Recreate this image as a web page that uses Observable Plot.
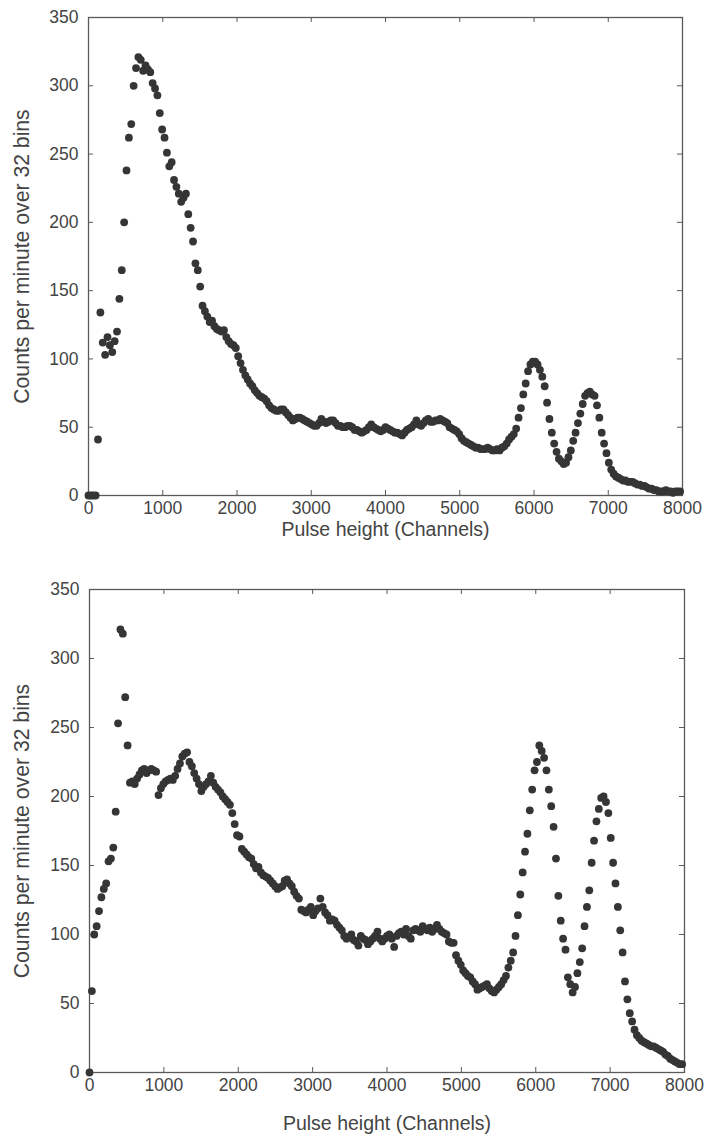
<!DOCTYPE html>
<html>
<head>
<meta charset="utf-8">
<script src="https://cdn.jsdelivr.net/npm/d3@7"></script>
<script src="https://cdn.jsdelivr.net/npm/@observablehq/plot@0.6"></script>
<style>
  body { margin: 0; background: #fff; }
  #chart { width: 705px; }
  #chart svg { display: block; }
</style>
</head>
<body>
<div id="chart"></div>
<script>
// Pulse-height spectra, counts summed over 32-channel bins (bin k starts at channel 32·k)
const binWidth = 32;

const xTicks = [0, 1000, 2000, 3000, 4000, 5000, 6000, 7000, 8000];
const yTicks = [0, 50, 100, 150, 200, 250, 300, 350];

const xTitle = "Pulse height (Channels)";
const yTitle = "Counts per minute over 32 bins";

// Upper spectrum
const spectrumA = [
  0, 0, 0, 0, 41, 134, 112, 103, 116, 110,
  105, 113, 120, 144, 165, 200, 238, 262, 272, 300,
  313, 321, 319, 311, 315, 312, 310, 302, 298, 293,
  280, 268, 262, 251, 241, 244, 231, 226, 221, 215,
  218, 221, 206, 196, 186, 170, 165, 153, 139, 135,
  131, 127, 128, 124, 122, 121, 120, 121, 116, 113,
  111, 110, 108, 102, 97, 92, 88, 85, 82, 80,
  77, 75, 73, 72, 71, 69, 66, 64, 63, 62,
  62, 63, 63, 61, 59, 57, 55, 56, 57, 57,
  56, 55, 54, 53, 52, 51, 51, 53, 56, 54,
  53, 54, 55, 55, 53, 51, 51, 50, 50, 51,
  51, 50, 48, 48, 47, 46, 47, 48, 50, 52,
  50, 49, 48, 47, 48, 50, 49, 48, 47, 46,
  46, 45, 44, 46, 48, 49, 50, 52, 55, 52,
  51, 53, 55, 56, 54, 54, 55, 55, 56, 55,
  54, 53, 50, 49, 48, 47, 45, 42, 40, 39,
  38, 37, 36, 35, 35, 34, 34, 34, 35, 34,
  33, 33, 34, 33, 35, 36, 38, 41, 43, 45,
  49, 57, 64, 74, 82, 91, 96, 98, 98, 96,
  92, 87, 80, 68, 56, 46, 38, 32, 27, 25,
  23, 24, 28, 33, 40, 46, 53, 60, 67, 73,
  75, 76, 74, 73, 66, 57, 46, 38, 31, 24,
  19, 16, 14, 13, 12, 11, 11, 10, 10, 10,
  9, 8, 8, 7, 7, 6, 5, 5, 4, 4,
  3, 3, 3, 4, 3, 3, 2, 3, 3, 3
];

// Lower spectrum
const spectrumB = [
  0, 59, 100, 106, 117, 127, 133, 137, 153, 155,
  163, 189, 253, 321, 318, 272, 237, 210, 211, 209,
  213, 216, 219, 220, 217, 219, 220, 219, 218, 201,
  206, 209, 211, 212, 213, 212, 215, 220, 224, 229,
  231, 232, 225, 222, 217, 213, 209, 204, 207, 209,
  211, 215, 210, 207, 205, 203, 200, 198, 196, 194,
  188, 180, 172, 171, 162, 160, 158, 156, 155, 151,
  148, 149, 145, 143, 142, 141, 139, 137, 135, 133,
  134, 135, 139, 140, 137, 135, 131, 128, 126, 118,
  117, 116, 118, 120, 114, 117, 119, 126, 120, 116,
  114, 110, 111, 110, 107, 105, 103, 99, 97, 98,
  100, 96, 95, 92, 99, 97, 96, 93, 95, 97,
  99, 102, 97, 95, 97, 99, 100, 97, 91, 99,
  101, 102, 100, 104, 99, 97, 103, 104, 103, 102,
  106, 104, 103, 105, 102, 104, 107, 104, 102, 101,
  100, 95, 94, 94, 85, 81, 78, 74, 72, 70,
  69, 66, 64, 60, 61, 62, 63, 64, 61, 59,
  58, 60, 62, 64, 67, 70, 76, 81, 87, 99,
  114, 129, 145, 160, 173, 190, 205, 219, 225, 237,
  233, 228, 219, 205, 193, 178, 155, 128, 110, 97,
  89, 69, 64, 58, 62, 72, 80, 90, 106, 120,
  132, 152, 168, 182, 191, 199, 200, 196, 188, 170,
  152, 137, 120, 103, 87, 66, 53, 43, 37, 31,
  27, 25, 23, 22, 21, 20, 19, 19, 18, 17,
  16, 15, 13, 12, 10, 9, 8, 7, 6, 6
];

const WIDTH = 705;
const FONT = "'Liberation Sans', Arial, Helvetica, sans-serif";
const INK = "#444";
const AXIS = "#5a5a5a";
const DOT = "#353535";
const TICK_LEN = 5;

function spectrumPanel(counts, layout) {
  const data = counts.map((count, k) => ({channel: k * binWidth, count}));
  const innerW = WIDTH - layout.marginLeft - layout.marginRight;
  const innerH = layout.height - layout.marginTop - layout.marginBottom;
  return Plot.plot({
    width: WIDTH,
    height: layout.height,
    marginTop: layout.marginTop,
    marginBottom: layout.marginBottom,
    marginLeft: layout.marginLeft,
    marginRight: layout.marginRight,
    style: {fontFamily: FONT, color: INK, background: "#fff"},
    x: {domain: [0, 8000]},
    y: {domain: [0, 350]},
    marks: [
      // tick labels only; tick marks are drawn inward below
      Plot.axisX(xTicks, {tickSize: 0, tickPadding: 6, fontSize: 17.5, tickFormat: d => String(d), label: null}),
      Plot.axisY(yTicks, {tickSize: 0, tickPadding: 10, fontSize: 17.5, label: null}),
      // inward ticks on all four sides of the frame
      Plot.tickX(xTicks, {x: d => d, insetTop: innerH - TICK_LEN, stroke: AXIS}),
      Plot.tickX(xTicks, {x: d => d, insetBottom: innerH - TICK_LEN, stroke: AXIS}),
      Plot.tickY(yTicks, {y: d => d, insetRight: innerW - TICK_LEN, stroke: AXIS}),
      Plot.tickY(yTicks, {y: d => d, insetLeft: innerW - TICK_LEN, stroke: AXIS}),
      Plot.frame({stroke: AXIS, strokeWidth: 1.3}),
      Plot.dot(data, {x: "channel", y: "count", r: 3.9, fill: DOT, stroke: "none"}),
      Plot.text([xTitle], {frameAnchor: "bottom", dy: layout.xTitleOffset, textAnchor: "middle", lineAnchor: "middle", text: d => d, fontSize: 19.5}),
      Plot.text([yTitle], {frameAnchor: "left", dx: layout.yTitleOffset, rotate: -90, textAnchor: "middle", lineAnchor: "middle", text: d => d, fontSize: 21.2})
    ]
  });
}

const chart = document.getElementById("chart");
chart.append(
  spectrumPanel(spectrumA, {height: 540, marginTop: 17, marginBottom: 45, marginLeft: 88, marginRight: 23, xTitleOffset: 34, yTitleOffset: -66}),
  spectrumPanel(spectrumB, {height: 594, marginTop: 49, marginBottom: 62, marginLeft: 89, marginRight: 21, xTitleOffset: 51, yTitleOffset: -67})
);
</script>
</body>
</html>
